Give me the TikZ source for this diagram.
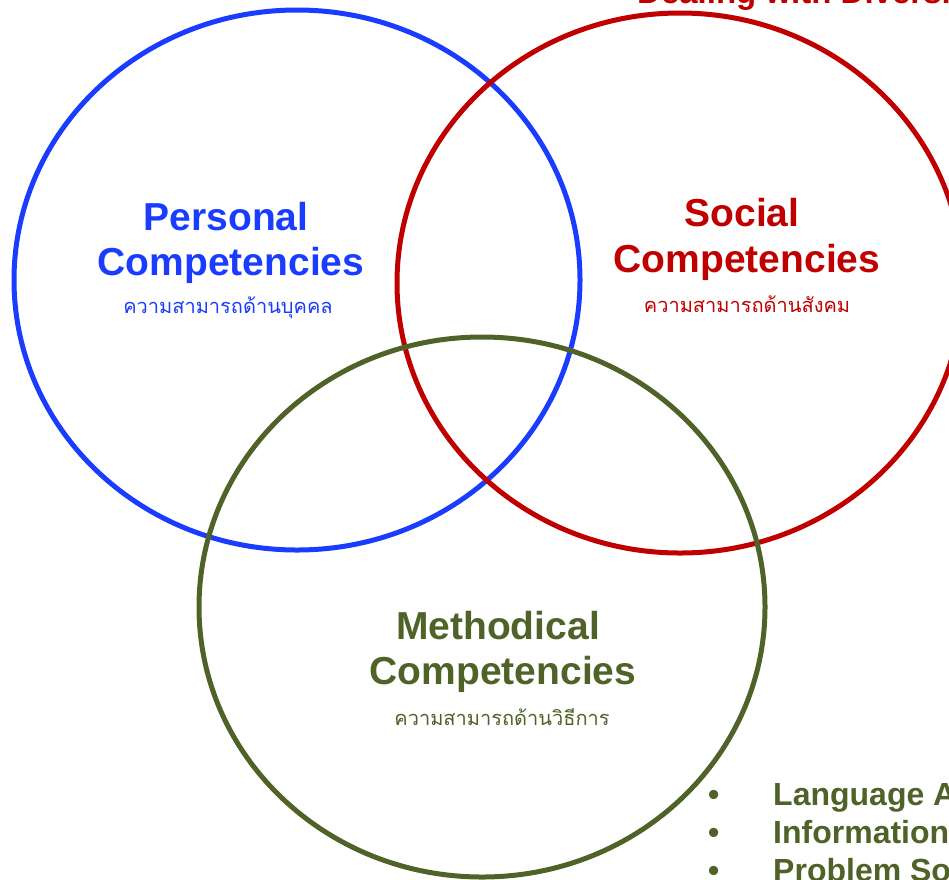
\documentclass[tikz,border=0pt]{standalone}
\usepackage{fontspec}
\setmainfont{Liberation Sans}
\newfontfamily\thaifont[Script=Thai]{Loma}
\definecolor{cblue}{HTML}{1A3CFF}
\definecolor{cred}{HTML}{C00000}
\definecolor{cgreen}{HTML}{4F6228}
\begin{document}
\begin{tikzpicture}[x=1pt,y=-1pt,
  ring/.style={line width=5pt},
  title/.style={font=\fontsize{39}{46}\selectfont\bfseries,align=center,anchor=center,inner sep=0pt},
  thai/.style={font=\thaifont\fontsize{20}{24}\selectfont,anchor=center,inner sep=0pt},
  bul/.style={font=\fontsize{32}{38}\selectfont\bfseries,text=cgreen,anchor=base west,inner sep=0pt}]
\useasboundingbox (0,0) rectangle (949,879);
\clip (0,0) rectangle (949,879);
\draw[ring,cblue] (297,280) ellipse [x radius=283,y radius=270];
\draw[ring,cred] (680,283) ellipse [x radius=283,y radius=270];
\draw[ring,cgreen] (482,607) ellipse [x radius=283,y radius=270];
\node[title,text=cblue] (p1) at (226,217) {Personal};
\node[title,text=cblue] (p2) at (231,265) {Competencies};
\node[thai,text=cblue] (p3) at (228,308) {ความสามารถด้านบุคคล};
\node[title,text=cred] (s1) at (742,213) {Social};
\node[title,text=cred] (s2) at (747,262) {Competencies};
\node[thai,text=cred] (s3) at (747,304) {ความสามารถด้านสังคม};
\node[title,text=cgreen] (m1) at (498,626) {Methodical};
\node[title,text=cgreen] (m2) at (503,674) {Competencies};
\node[thai,text=cgreen] (m3) at (502,717) {ความสามารถด้านวิธีการ};
\node[bul,font=\fontsize{33}{40}\selectfont\bfseries,text=cred] (top) at (637,3) {Dealing with Diversity};
\node[bul] (b1d) at (708,805) {•};
\node[bul] (b1) at (773,805) {Language Ability};
\node[bul] (b2d) at (708,843) {•};
\node[bul] (b2) at (773,843) {Information Technology};
\node[bul] (b3d) at (708,881) {•};
\node[bul] (b3) at (773,881) {Problem Solving};
\end{tikzpicture}
\end{document}
